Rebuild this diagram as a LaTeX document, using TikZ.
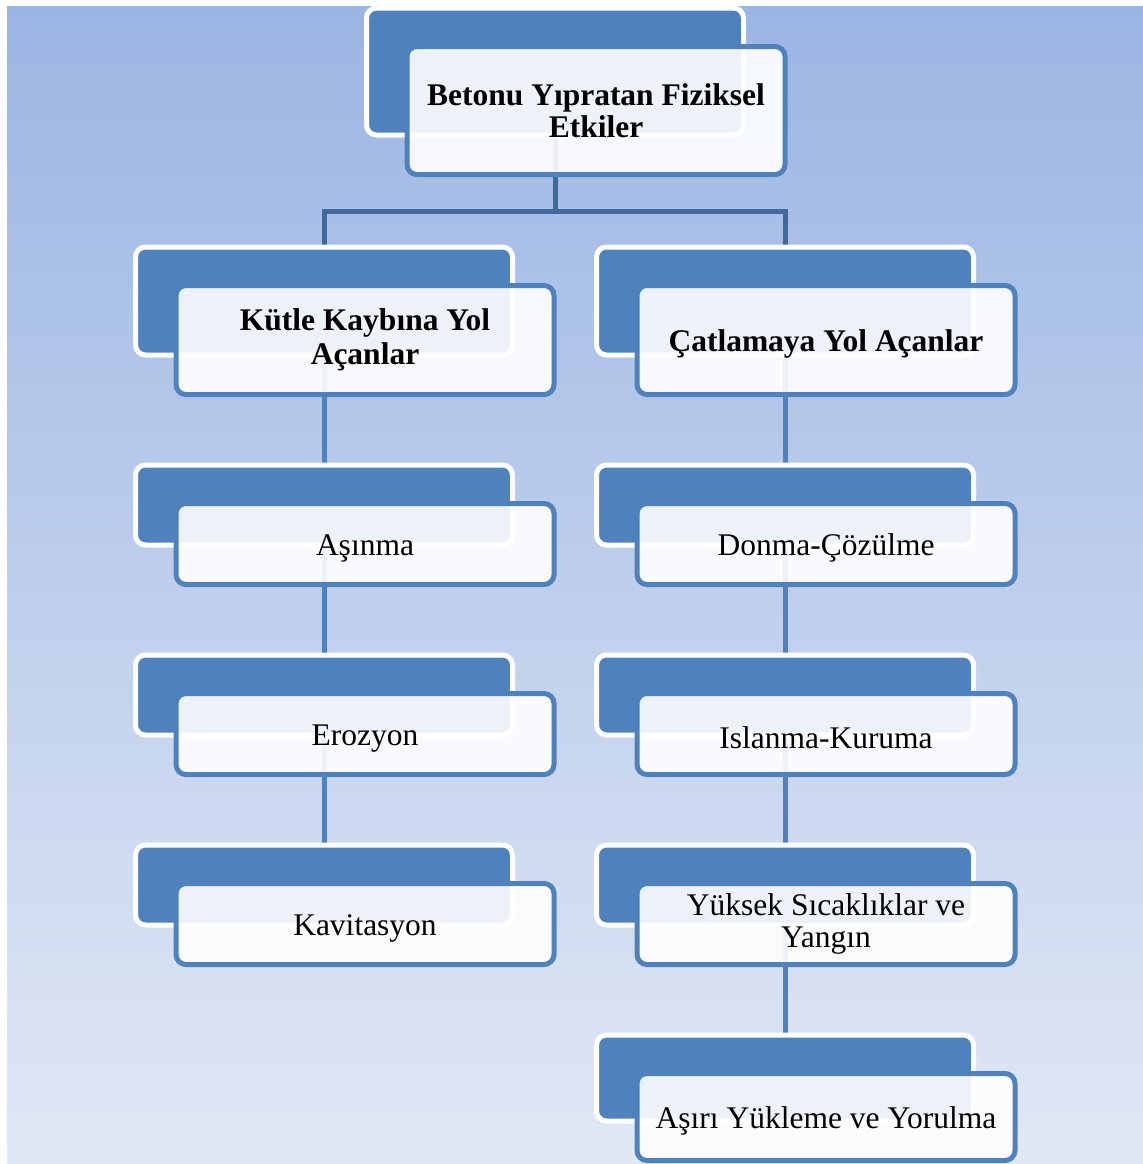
\documentclass[tikz,border=0pt]{standalone}
\usepackage{fontspec}
\setmainfont{Liberation Serif}
\usetikzlibrary{positioning, calc, fit}

\definecolor{boxblue}{HTML}{4F81BD}
\definecolor{trunkblue}{HTML}{41689B}
\definecolor{skytop}{HTML}{9BB5E3}
\definecolor{skybottom}{HTML}{E1E8F5}

\pgfdeclarelayer{sky}
\pgfdeclarelayer{links}
\pgfdeclarelayer{backs}
\pgfsetlayers{sky,links,backs,main}

\begin{document}
\begin{tikzpicture}[
    font=\fontsize{15.75}{16}\selectfont,
    front/.style={draw=boxblue, line width=2.5pt, rounded corners=5pt, fill=white, fill opacity=0.9, text opacity=1, minimum width=189pt, minimum height=40.5pt, align=center, inner sep=2pt, execute at begin node={\rule{0pt}{14.5pt}}},
    back/.style={draw=white, line width=2.5pt, rounded corners=5pt, fill=boxblue, inner sep=-1.5pt, shift={(-20.5pt,19.5pt)}},
    trunk/.style={draw=trunkblue, line width=2.5pt},
    stem/.style={draw=boxblue, line width=2.5pt},
    node distance=52pt
]
    \useasboundingbox (0,0) rectangle (571.5pt,-582pt);
    \begin{pgfonlayer}{sky}
        \shade[top color=skytop, bottom color=skybottom] (3.5pt,-3pt) rectangle (571.5pt,-582pt);
    \end{pgfonlayer}

    % Top box
    \node[front, minimum height=64pt] (etkiler) at (298pt,-55.25pt) {\textbf{Betonu Yıpratan Fiziksel}\\\textbf{Etkiler}};

    % Two groups
    \node[front, minimum height=54.5pt, below=53pt of etkiler, xshift=-115.5pt, font=\fontsize{15.75}{17}\selectfont, execute at begin node={\rule{0pt}{16.5pt}}] (kutle) {\textbf{Kütle Kaybına Yol}\\\textbf{Açanlar}};
    \node[front, minimum height=54.5pt, right=39pt of kutle] (catlama) {\textbf{Çatlamaya Yol Açanlar}};

    % Left column
    \node[front, below=of kutle] (asinma) {Aşınma};
    \node[front, below=of asinma] (erozyon) {Erozyon};
    \node[front, below=of erozyon] (kavitasyon) {Kavitasyon};

    % Right column
    \node[front, below=of catlama] (donma) {Donma-Çözülme};
    \node[front, below=of donma] (islanma) {Islanma-Kuruma};
    \node[front, below=of islanma] (yuksek) {Yüksek Sıcaklıklar ve\\Yangın};
    \node[front, minimum height=43.5pt, below=of yuksek] (asiri) {Aşırı Yükleme ve Yorulma};

    % Dark boxes behind
    \begin{pgfonlayer}{backs}
        \foreach \n in {etkiler,kutle,catlama,asinma,erozyon,kavitasyon,donma,islanma,yuksek,asiri}
            \node[back, fit=(\n)] (\n-b) {};
    \end{pgfonlayer}

    % Connectors
    \begin{pgfonlayer}{links}
        \path (etkiler.south) ++(0,-17pt) coordinate (bar);
        \draw[trunk] (etkiler-b.center) -- (etkiler-b.center |- bar);
        \draw[trunk] (kutle-b.center) |- (catlama-b.center |- bar) -- (catlama-b.center);
        \draw[stem] (kutle-b.center) -- (kavitasyon-b.center);
        \draw[stem] (catlama-b.center) -- (asiri-b.center);
    \end{pgfonlayer}

\end{tikzpicture}
\end{document}
